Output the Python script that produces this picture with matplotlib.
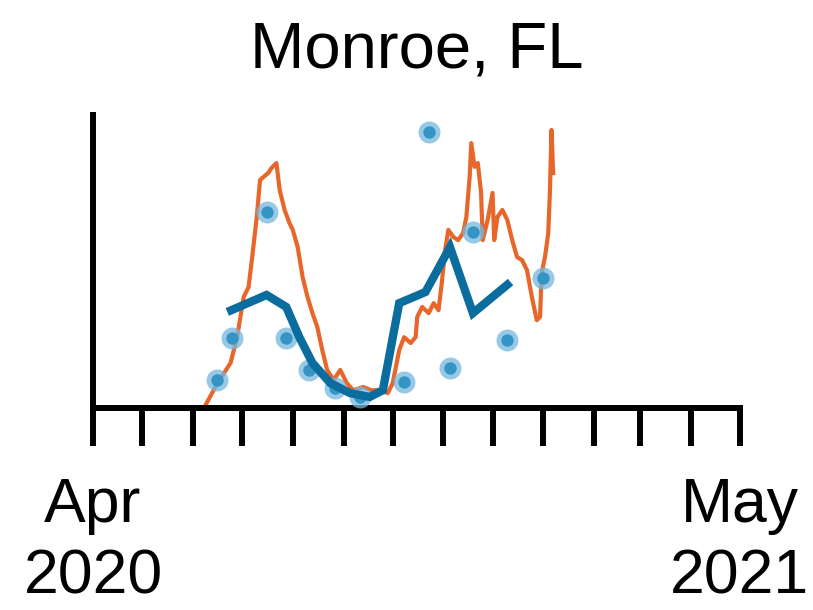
import pandas as pd
import matplotlib.pyplot as plt

plt.rcParams['font.family'] = ['Liberation Sans', 'DejaVu Sans']

start = pd.Timestamp('2020-04-01')

# Daily series (orange): days since 2020-04-01, relative level
daily_days = [68, 76, 84, 88, 92, 95, 97, 100, 102, 104, 107, 109, 112, 114, 117, 120,
              122, 125, 128, 131, 134, 137, 140, 143, 147, 151, 155, 159, 165, 170, 175,
              180, 183, 187, 190, 194, 197, 198, 201, 205, 208, 211, 213, 215, 217, 220,
              223, 226, 228, 230, 231, 233, 235, 237, 238, 241, 244, 245, 247, 250, 253,
              256, 259, 262, 265, 268, 271, 273, 274, 276, 278, 279, 280, 281]
daily_vals = [0.3, 8.5, 15.4, 24.2, 37.9, 41.3, 50.5, 65.2, 77.8, 78.8, 80.2, 81.9, 83.6,
              74.4, 67.6, 63.1, 60.8, 54.9, 44.7, 37.9, 32.4, 27.6, 19.8, 13.0, 9.6, 13.0,
              8.5, 6.1, 7.2, 6.1, 6.1, 5.1, 8.5, 19.8, 24.2, 22.2, 24.2, 31.1, 34.5, 32.4,
              35.8, 33.4, 42.7, 53.9, 60.8, 58.4, 57.3, 59.7, 65.2, 78.8, 90.4, 82.3, 83.6,
              73.4, 57.3, 64.2, 73.4, 57.3, 65.2, 67.6, 64.2, 57.3, 51.5, 50.5, 47.1, 37.9,
              30.0, 31.1, 46.1, 51.5, 59.7, 73.4, 94.9, 80.2]

# Smoothed series (blue line)
smooth_days = [82, 106, 118, 126, 134, 145, 157, 169, 177, 187, 203, 218, 232, 255]
smooth_vals = [32.8, 38.6, 34.5, 24.2, 15.4, 8.5, 5.1, 3.8, 6.1, 35.8, 39.6, 54.9, 32.4, 43.0]

# Sampled points (blue dots)
point_days = [76, 85, 106, 118, 132, 148, 163, 190, 205, 218, 232, 253, 275]
point_vals = [9.6, 23.9, 66.9, 23.9, 13.0, 6.8, 3.8, 8.9, 94.2, 13.7, 60.1, 23.2, 44.4]

daily_dates = start + pd.to_timedelta(daily_days, unit='D')
smooth_dates = start + pd.to_timedelta(smooth_days, unit='D')
point_dates = start + pd.to_timedelta(point_days, unit='D')

fig = plt.figure(figsize=(8.13, 6.10), dpi=100)
ax = fig.add_axes([0.1144, 0.331, 0.7956, 0.4805])

ax.plot(daily_dates, daily_vals, color='#e8662a', lw=3.0, zorder=2)
# soft-edged dots: light halo + darker core
ax.scatter(point_dates, point_vals, s=250, color='#74b8de', alpha=0.75, lw=0, zorder=3)
ax.scatter(point_dates, point_vals, s=80, color='#3594c4', lw=0, zorder=4)
ax.plot(smooth_dates, smooth_vals, color='#0b6c9e', lw=6.0, zorder=5,
        solid_capstyle='butt', solid_joinstyle='miter')

ax.set_xlim(pd.Timestamp('2020-04-01'), pd.Timestamp('2021-05-01'))
ax.set_ylim(0, 100)

# Month ticks, labels only at the ends
ticks = pd.date_range('2020-04-01', '2021-05-01', freq='MS')
ax.set_xticks(ticks)
labels = [''] * len(ticks)
labels[0] = 'Apr\n2020'
labels[-1] = 'May\n2021'
ax.set_xticklabels(labels, fontsize=45, linespacing=1.27)
ax.tick_params(axis='x', length=27, width=4.3, direction='out', pad=22, color='black')
ax.set_yticks([])

for side in ['top', 'right']:
    ax.spines[side].set_visible(False)
for side in ['left', 'bottom']:
    ax.spines[side].set_linewidth(4.3)

ax.set_title('Monroe, FL', fontsize=47, pad=34)

fig.savefig('out.png', dpi=100)
